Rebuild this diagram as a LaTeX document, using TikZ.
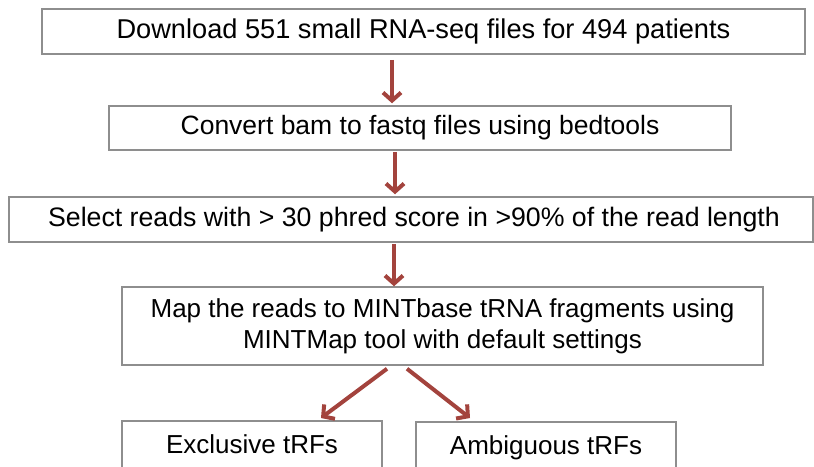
\documentclass[tikz,border=0pt]{standalone}
\usepackage{fontspec}
\setmainfont{Liberation Sans}
\usetikzlibrary{arrows.meta}
\definecolor{boxline}{HTML}{8E8E8E}
\definecolor{arrred}{HTML}{A3433D}
\tikzset{
  box/.style={draw=boxline, line width=1.5pt, fill=white, inner sep=0pt,
    font=\fontsize{26}{31}\selectfont, align=center},
  arr/.style={draw=arrred, line width=4pt,
    -{Straight Barb[length=8pt,width=18pt]}}
}
\begin{document}
\begin{tikzpicture}[x=1pt,y=-1pt]
\useasboundingbox (0,0) rectangle (814,466);
\clip (0,0) rectangle (814,466);
\node[box, minimum width=763pt, minimum height=45pt, font=\fontsize{27.2}{32}\selectfont] (b1) at (423.5,31.5)
  {\raisebox{-4pt}{Download 551 small RNA-seq files for 494 patients}};
\node[box, minimum width=622pt, minimum height=44pt, font=\fontsize{26.5}{31}\selectfont] (b2) at (420,128)
  {\raisebox{-2pt}{Convert bam to fastq files using bedtools}};
\node[box, minimum width=804pt, minimum height=45pt, font=\fontsize{26.7}{31}\selectfont] (b3) at (411,219.5)
  {\hspace*{6pt}Select reads with > 30 phred score in >90\% of the read length};
\node[box, minimum width=641pt, minimum height=78pt] (b4) at (442.5,326)
  {Map the reads to MINTbase tRNA fragments using\\MINTMap tool with default settings};
\node[box, minimum width=260pt, minimum height=56pt, anchor=north] (b5) at (252,420)
  {\raisebox{9pt}{Exclusive tRFs}};
\node[box, minimum width=260pt, minimum height=56pt, anchor=north] (b6) at (546,421)
  {\raisebox{9pt}{Ambiguous tRFs}};
\draw[arr] ([xshift=-31.5pt,yshift=-5pt]b1.south) -- ([xshift=-28pt,yshift=2pt]b2.north);
\draw[arr] ([xshift=-25pt,yshift=-1pt]b2.south) -- ([xshift=-16pt,yshift=2pt]b3.north);
\draw[arr] ([xshift=-17pt,yshift=-1pt]b3.south) -- ([xshift=-48.5pt,yshift=0pt]b4.north);
\draw[arr] ([xshift=-55.5pt,yshift=-3pt]b4.south) -- ([xshift=69pt,yshift=2pt]b5.north);
\draw[arr] ([xshift=-35.5pt,yshift=-3pt]b4.south) -- ([xshift=-76pt,yshift=3pt]b6.north);
\end{tikzpicture}
\end{document}
